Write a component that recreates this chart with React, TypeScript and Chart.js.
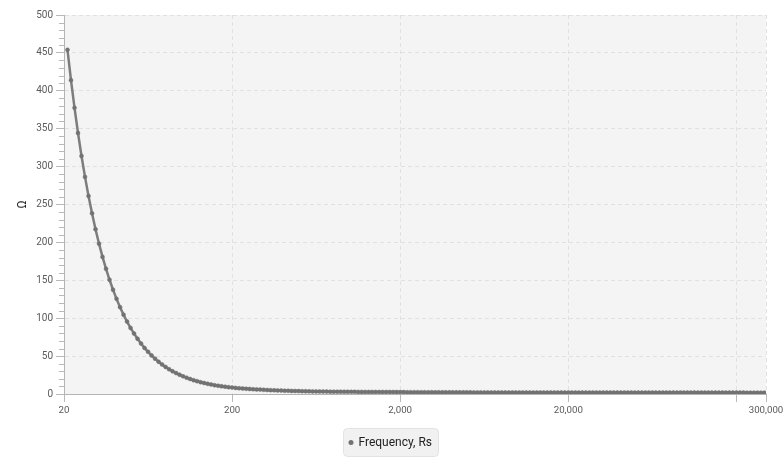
import React, { useEffect, useRef } from 'react';
import { Chart, registerables } from 'chart.js';

Chart.register(...registerables);

const SERIES_LABEL = 'Frequency, Rs';
const Y_TITLE = 'Ω';

const FREQUENCIES = [
  20.98, 22.01, 23.10, 24.23, 25.42, 26.67, 27.98, 29.36, 30.80, 32.31, 33.90, 35.57, 37.31, 39.15, 41.07, 43.09,
  45.21, 47.43, 49.76, 52.20, 54.77, 57.46, 60.28, 63.25, 66.35, 69.61, 73.03, 76.62, 80.39, 84.34, 88.48, 92.83,
  97.39, 102.18, 107.20, 112.47, 118.00, 123.79, 129.88, 136.26, 142.95, 149.98, 157.35, 165.08, 173.19, 181.70, 190.63,
  200,
  209.8, 220.1, 231.0, 242.3, 254.2, 266.7, 279.8, 293.6, 308.0, 323.1, 339.0, 355.7, 373.1, 391.5, 410.7, 430.9,
  452.1, 474.3, 497.6, 522.0, 547.7, 574.6, 602.8, 632.5, 663.5, 696.1, 730.3, 766.2, 803.9, 843.4, 884.8, 928.3,
  973.9, 1021.8, 1072.0, 1124.7, 1180.0, 1237.9, 1298.8, 1362.6, 1429.5, 1499.8, 1573.5, 1650.8, 1731.9, 1817.0, 1906.3,
  2000,
  2098, 2201, 2310, 2423, 2542, 2667, 2798, 2936, 3080, 3231, 3390, 3557, 3731, 3915, 4107, 4309,
  4521, 4743, 4976, 5220, 5477, 5746, 6028, 6325, 6635, 6961, 7303, 7662, 8039, 8434, 8848, 9283,
  9739, 10218, 10720, 11247, 11800, 12379, 12988, 13626, 14295, 14998, 15735, 16508, 17319, 18170, 19063,
  20000,
  20983, 22014, 23096, 24231, 25421, 26670, 27981, 29356, 30799, 32312, 33900, 35566, 37313, 39147, 41071, 43089,
  45206, 47427, 49758, 52203, 54768, 57460, 60283, 63246, 66353, 69614, 73035, 76624, 80389, 84339, 88484, 92832,
  97394, 102179, 107200, 112468, 117993, 123788, 129876, 136258, 142954, 149979, 157349, 165081, 173193, 181704, 190632,
  200000,
  209828, 220138, 230956, 242306, 254212, 266704, 279812, 293560,
];

const RS_VALUES = [
  454, 414, 377.5, 344.3, 314, 286.4, 261.2, 238.3, 217.4, 198.3,
  180.9, 165.1, 150.7, 137.5, 125.5, 114.6, 104.6, 95.5, 87.2, 79.7,
  72.8, 66.5, 60.8, 55.6, 50.9, 46.6, 42.6, 39, 35.7, 32.7,
  30, 27.6, 25.4, 23.3, 21.5, 19.8, 18.2, 16.9, 15.6, 14.5,
  13.4, 12.5, 11.6, 10.9, 10.2, 9.6, 9, 8.5, 8, 7.6,
  7.2, 6.9, 6.6, 6.3, 6, 5.8, 5.5, 5.3, 5.1, 4.9,
  4.7, 4.5, 4.3, 4.2, 4, 3.9, 3.8, 3.7, 3.6, 3.5,
  3.4, 3.35, 3.3, 3.2, 3.15, 3.1, 3.05, 3, 2.95, 2.9,
  2.88, 2.85, 2.82, 2.8, 2.77, 2.74, 2.72, 2.7, 2.67, 2.65,
  2.62, 2.6, 2.57, 2.55, 2.52, 2.5, 2.48, 2.45, 2.43, 2.41,
  2.39, 2.37, 2.35, 2.33, 2.31, 2.3, 2.28, 2.26, 2.25, 2.23,
  2.22, 2.2, 2.19, 2.18, 2.16, 2.15, 2.14, 2.13, 2.12, 2.11,
  2.1, 2.09, 2.08, 2.07, 2.06, 2.05, 2.04, 2.04, 2.03, 2.02,
  2.01, 2.01, 2, 1.99, 1.99, 1.98, 1.98, 1.97, 1.97, 1.96,
  1.96, 1.95, 1.95, 1.94, 1.94, 1.93, 1.93, 1.93, 1.92, 1.92,
  1.92, 1.91, 1.91, 1.91, 1.9, 1.9, 1.9, 1.89, 1.89, 1.89,
  1.88, 1.88, 1.88, 1.88, 1.87, 1.87, 1.87, 1.87, 1.86, 1.86,
  1.86, 1.86, 1.85, 1.85, 1.85, 1.85, 1.85, 1.84, 1.84, 1.84,
  1.84, 1.84, 1.83, 1.83, 1.83, 1.83, 1.83, 1.83, 1.82, 1.82,
  1.82, 1.82, 1.82, 1.82, 1.81, 1.81, 1.81, 1.81, 1.81, 1.8,
];

const X_MIN = 20;
const X_MAX = 300000;
const X_TICKS = [20, 200, 2000, 20000, 200000, 300000];
const X_UNLABELLED = [200000];
const Y_MIN = 0;
const Y_MAX = 500;
const Y_STEP = 50;
const Y_MINOR_STEP = 10;

const FONT = 'Roboto';
const LINE_COLOR = '#7d7d7d';
const POINT_COLOR = '#727272';
const GRID_COLOR = '#e1e1e1';
const TICK_COLOR = '#b9b9b9';
const AXIS_COLOR = '#b3b3b3';
const LABEL_COLOR = '#5a5a5a';

const plotBackground = {
  id: 'plotBackground',
  beforeDraw(chart: any) {
    const { ctx, chartArea: a } = chart;
    ctx.save();
    ctx.fillStyle = '#f4f4f4';
    ctx.fillRect(a.left, a.top, a.right - a.left, a.bottom - a.top);
    ctx.restore();
  },
};

const minorTicks = {
  id: 'minorTicks',
  afterDraw(chart: any) {
    const y = chart.scales.y;
    const ctx = chart.ctx;
    ctx.save();
    ctx.strokeStyle = TICK_COLOR;
    ctx.lineWidth = 1;
    for (let v = Y_MIN + Y_MINOR_STEP; v < Y_MAX; v += Y_MINOR_STEP) {
      if (v % Y_STEP === 0) continue;
      const py = Math.round(y.getPixelForValue(v)) + 0.5;
      ctx.beginPath();
      ctx.moveTo(y.right - 5, py);
      ctx.lineTo(y.right, py);
      ctx.stroke();
    }
    ctx.restore();
  },
};

const boxLegend = {
  id: 'boxLegend',
  afterDraw(chart: any) {
    const ctx = chart.ctx;
    const ds = chart.data.datasets[0];
    ctx.save();
    ctx.font = `12px ${FONT}`;
    const tw = ctx.measureText(ds.label).width;
    const w = Math.round(tw + 21.5);
    const h = 28;
    const left = Math.round(chart.width / 2 - 2 - w / 2) + 0.5;
    const top = 428.5;
    ctx.beginPath();
    ctx.roundRect(left, top, w, h, 4);
    ctx.fillStyle = '#f1f1f1';
    ctx.fill();
    ctx.strokeStyle = '#e3e3e3';
    ctx.lineWidth = 1;
    ctx.stroke();
    ctx.beginPath();
    ctx.arc(left + 7.5, top + h / 2, 2.5, 0, Math.PI * 2);
    ctx.fillStyle = POINT_COLOR;
    ctx.fill();
    ctx.fillStyle = '#222222';
    ctx.textBaseline = 'middle';
    ctx.textAlign = 'left';
    ctx.fillText(ds.label, left + 15, top + h / 2 + 0.5);
    ctx.restore();
  },
};

export default function App() {
  const canvasRef = useRef<HTMLCanvasElement | null>(null);

  useEffect(() => {
    if (!canvasRef.current) return;
    const chart = new Chart(canvasRef.current, {
      type: 'line',
      data: {
        datasets: [
          {
            label: SERIES_LABEL,
            data: FREQUENCIES.map((f, i) => ({ x: f, y: RS_VALUES[i] })),
            borderColor: LINE_COLOR,
            borderWidth: 2.5,
            pointRadius: 2,
            pointBackgroundColor: POINT_COLOR,
            pointBorderColor: POINT_COLOR,
            pointBorderWidth: 0.5,
            tension: 0,
            fill: false,
          },
        ],
      },
      options: {
        responsive: false,
        animation: false,
        layout: { padding: { left: 0, right: 18, top: 15, bottom: 38 } },
        plugins: {
          legend: { display: false },
          tooltip: { enabled: false },
        },
        scales: {
          x: {
            type: 'logarithmic',
            min: X_MIN,
            max: X_MAX,
            afterBuildTicks: (scale: any) => {
              scale.ticks = X_TICKS.map((v) => ({ value: v }));
            },
            afterFit: (scale: any) => {
              scale.height = 30;
              scale.paddingRight = 0;
              scale.paddingLeft = 0;
            },
            ticks: {
              autoSkip: false,
              maxRotation: 0,
              color: LABEL_COLOR,
              font: { family: FONT, size: 9.7 },
              padding: 3,
              callback: (v: any) =>
                X_UNLABELLED.includes(Number(v)) ? '' : Number(v).toLocaleString('en-US'),
            },
            grid: {
              color: GRID_COLOR,
              tickColor: TICK_COLOR,
              tickLength: 8,
              lineWidth: 1,
            },
            border: { color: AXIS_COLOR, width: 1, dash: [4, 3] },
          },
          y: {
            type: 'linear',
            min: Y_MIN,
            max: Y_MAX,
            afterFit: (scale: any) => {
              scale.width = 64;
            },
            ticks: {
              stepSize: Y_STEP,
              color: LABEL_COLOR,
              font: { family: FONT, size: 10 },
              padding: 3,
            },
            grid: {
              color: GRID_COLOR,
              tickColor: TICK_COLOR,
              tickLength: 8,
              lineWidth: 1,
            },
            border: { color: AXIS_COLOR, width: 1, dash: [4, 3] },
            title: {
              display: true,
              text: Y_TITLE,
              color: '#222222',
              font: { family: FONT, size: 12 },
              padding: { top: 16, bottom: 0 },
            },
          },
        },
      },
      plugins: [plotBackground, minorTicks, boxLegend],
    } as any);
    return () => chart.destroy();
  }, []);

  return (
    <div style={{ position: 'fixed', left: 0, top: 0, width: 784, height: 462, background: '#ffffff' }}>
      <canvas ref={canvasRef} width={784} height={462} style={{ display: 'block' }} />
    </div>
  );
}
